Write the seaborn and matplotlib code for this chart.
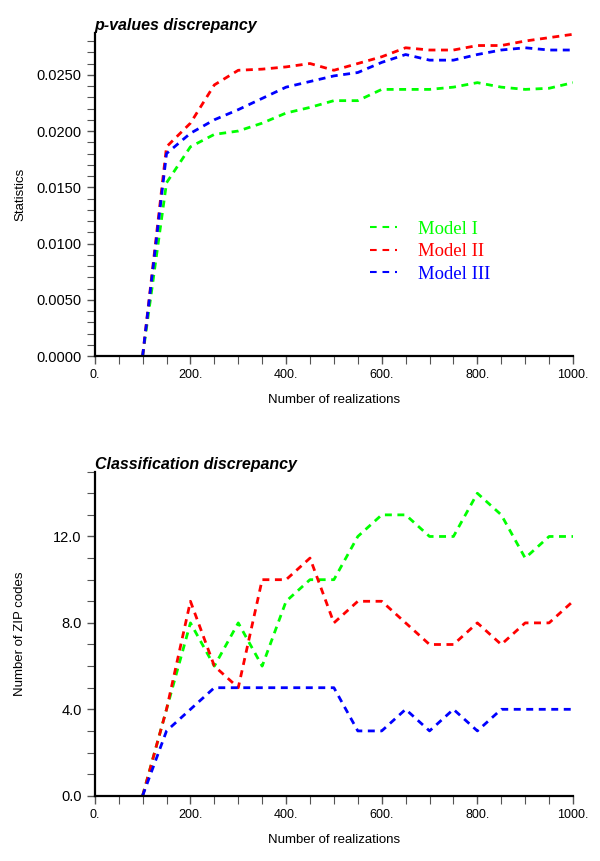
import numpy as np
import pandas as pd
import matplotlib
matplotlib.use("Agg")
import matplotlib.pyplot as plt
from matplotlib.ticker import MultipleLocator, FixedLocator, FormatStrFormatter
import seaborn as sns

# realizations
realizations = [100, 150, 200, 250, 300, 350, 400, 450, 500, 550,
                600, 650, 700, 750, 800, 850, 900, 950, 1000]

# p-values discrepancy
pval_model1 = [0.0, 0.0154, 0.0186, 0.0197, 0.0200, 0.0207, 0.0216, 0.0221, 0.0227, 0.0227,
               0.0237, 0.0237, 0.0237, 0.0239, 0.0243, 0.0239, 0.0237, 0.0238, 0.0243]
pval_model2 = [0.0, 0.0186, 0.0207, 0.0241, 0.0254, 0.0255, 0.0257, 0.0260, 0.0254, 0.0260,
               0.0266, 0.0274, 0.0272, 0.0272, 0.0276, 0.0276, 0.0280, 0.0283, 0.0286]
pval_model3 = [0.0, 0.0180, 0.0198, 0.0210, 0.0219, 0.0229, 0.0239, 0.0244, 0.0249, 0.0252,
               0.0261, 0.0268, 0.0263, 0.0263, 0.0268, 0.0272, 0.0274, 0.0272, 0.0272]

# classification discrepancy (number of ZIP codes)
zip_model1 = [0, 4, 8, 6, 8, 6, 9, 10, 10, 12, 13, 13, 12, 12, 14, 13, 11, 12, 12]
zip_model2 = [0, 4, 9, 6, 5, 10, 10, 11, 8, 9, 9, 8, 7, 7, 8, 7, 8, 8, 9]
zip_model3 = [0, 3, 4, 5, 5, 5, 5, 5, 5, 3, 3, 4, 3, 4, 3, 4, 4, 4, 4]

model_names = ["Model I", "Model II", "Model III"]
model_colors = ["#00ff00", "#ff0000", "#0000ff"]


def to_long(series_list):
    frames = []
    for name, vals in zip(model_names, series_list):
        frames.append(pd.DataFrame({"x": realizations, "y": vals, "model": name}))
    return pd.concat(frames, ignore_index=True)


sns.set_style("ticks")
plt.rcParams["font.family"] = ["Liberation Sans", "DejaVu Sans"]
plt.rcParams["text.color"] = "black"
plt.rcParams["axes.labelcolor"] = "black"
plt.rcParams["xtick.labelcolor"] = "black"
plt.rcParams["ytick.labelcolor"] = "black"

fig = plt.figure(figsize=(6, 8.61), dpi=100)
ax1 = fig.add_axes([0.158, 0.5865, 0.797, 0.375])
ax2 = fig.add_axes([0.158, 0.0758, 0.797, 0.3764])

palette = dict(zip(model_names, model_colors))
dash_map = {m: (2.5, 2) for m in model_names}

df_p = to_long([pval_model1, pval_model2, pval_model3])
df_z = to_long([zip_model1, zip_model2, zip_model3])

sns.lineplot(data=df_p, x="x", y="y", hue="model", style="model", palette=palette,
             dashes=dash_map, linewidth=2, ax=ax1, legend=False)
sns.lineplot(data=df_z, x="x", y="y", hue="model", style="model", palette=palette,
             dashes=dash_map, linewidth=2, ax=ax2, legend=False)

for ax in (ax1, ax2):
    sns.despine(ax=ax)
    ax.spines["left"].set_linewidth(1.6)
    ax.spines["bottom"].set_linewidth(1.6)
    ax.spines["left"].set_color("black")
    ax.spines["bottom"].set_color("black")
    ax.set_xlim(0, 1000)
    ax.xaxis.set_major_locator(FixedLocator([0, 200, 400, 600, 800, 1000]))
    ax.set_xticklabels(["0.", "200.", "400.", "600.", "800.", "1000."])
    ax.xaxis.set_minor_locator(MultipleLocator(50))
    ax.tick_params(which="both", direction="out", color="#555555")
    ax.tick_params(axis="x", labelsize=9)
    ax.tick_params(axis="y", labelsize=10.5)
    ax.tick_params(which="major", length=6, width=1)
    ax.tick_params(which="minor", length=6, width=0.8)
    ax.set_xlabel("Number of realizations", fontsize=9.5)
    ax.xaxis.set_label_coords(0.5, -0.118)

ax1.set_ylim(0, 0.0287)
ax1.yaxis.set_major_locator(MultipleLocator(0.005))
ax1.yaxis.set_minor_locator(MultipleLocator(0.001))
ax1.yaxis.set_major_formatter(FormatStrFormatter("%.4f"))
ax1.set_ylabel("Statistics", fontsize=9.5)
ax1.yaxis.set_label_coords(-0.144, 0.5)
ax1.set_title("p-values discrepancy", loc="left", fontsize=11.5, fontweight="bold",
              fontstyle="italic", x=0.0, pad=2)

ax2.set_ylim(0, 15)
ax2.yaxis.set_major_locator(MultipleLocator(4))
ax2.yaxis.set_minor_locator(MultipleLocator(1))
ax2.yaxis.set_major_formatter(FormatStrFormatter("%.1f"))
ax2.set_ylabel("Number of ZIP codes", fontsize=9.5)
ax2.yaxis.set_label_coords(-0.144, 0.5)
ax2.set_title("Classification discrepancy", loc="left", fontsize=11.5, fontweight="bold",
              fontstyle="italic", x=0.0, pad=2)

# legend with serif coloured text
handles = [plt.Line2D([], [], color=c, linestyle=(0, (3.2, 2.8)), linewidth=1.5) for c in model_colors]
leg = ax1.legend(handles, model_names, loc="upper left", bbox_to_anchor=(0.575, 0.42),
                 frameon=False, borderpad=0, borderaxespad=0,
                 handlelength=1.45, handletextpad=1.1, labelspacing=0.3,
                 prop={"family": "Liberation Serif", "size": 13.5})
for txt, c in zip(leg.get_texts(), model_colors):
    txt.set_color(c)

fig.savefig("out.png", dpi=100)
